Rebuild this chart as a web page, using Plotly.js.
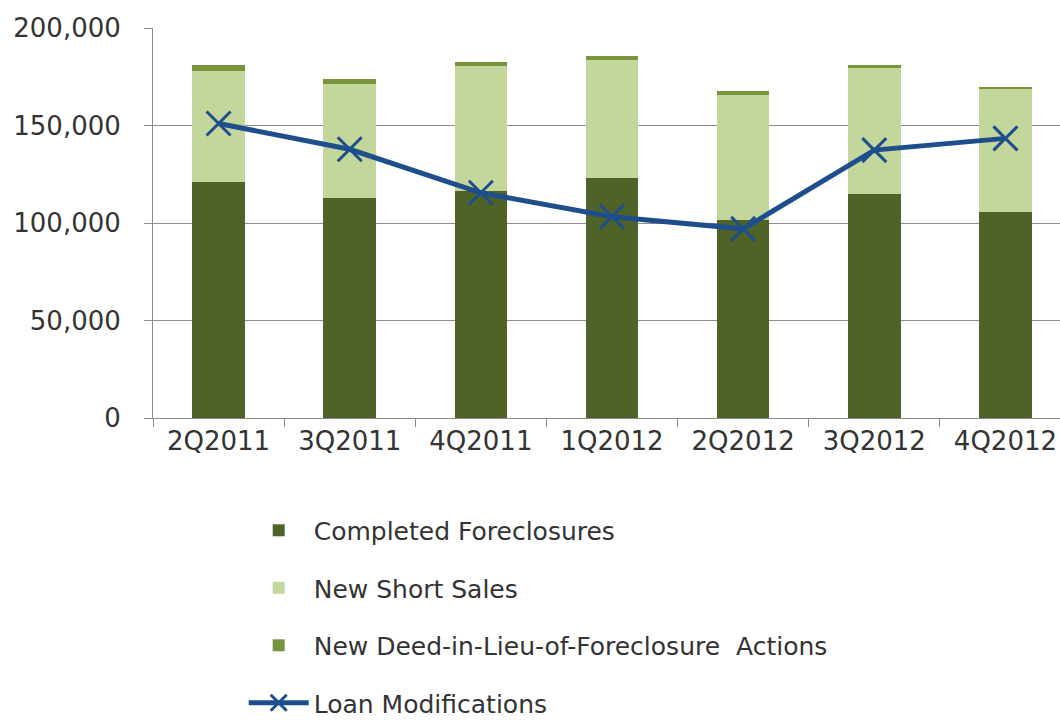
<!DOCTYPE html>
<html><head><meta charset="utf-8">
<script src="https://cdn.plot.ly/plotly-3.0.1.min.js"></script>
<style>html,body{margin:0;padding:0;background:#fff}#chart{width:1060px;height:723px}</style>
</head><body><div id="chart"></div>
<script>
const quarters = ["2Q2011","3Q2011","4Q2011","1Q2012","2Q2012","3Q2012","4Q2012"];
const completedForeclosures = [121000, 113000, 116500, 123000, 101500, 114700, 105500];
const newShortSales = [57000, 58500, 64000, 60500, 64000, 65000, 63000];
const newDeedInLieu = [3000, 2100, 2000, 2400, 2200, 1400, 1000];
const loanModifications = [151000, 137800, 115500, 103200, 97000, 137400, 143400];
const yTicks = [0, 50000, 100000, 150000, 200000];

const font = "DejaVu Sans, sans-serif";
const traces = [
  {type:"bar", name:"Completed Foreclosures", x:quarters, y:completedForeclosures,
   marker:{color:"#4F6228"}, width:0.4, legendgroup:"a"},
  {type:"bar", name:"New Short Sales", x:quarters, y:newShortSales,
   marker:{color:"#C3D69B"}, width:0.4, legendgroup:"b"},
  {type:"bar", name:"New Deed-in-Lieu-of-Foreclosure  Actions", x:quarters, y:newDeedInLieu,
   marker:{color:"#77933C"}, width:0.4, legendgroup:"c"},
  {type:"scatter", mode:"lines+markers", name:"Loan Modifications", x:quarters, y:loanModifications,
   line:{color:"#1F4E8C", width:5},
   marker:{symbol:"x-thin-open", size:24, color:"#1F4E8C", line:{color:"#1F4E8C", width:3}},
   legendgroup:"d"}
];
const layout = {
  width:1060, height:723,
  margin:{l:153, r:0, t:28, b:305},
  paper_bgcolor:"#fff", plot_bgcolor:"#fff",
  barmode:"stack",
  showlegend:true,
  font:{family:font, size:22, color:"#333"},
  xaxis:{type:"category", range:[-0.5, 6.416], showgrid:false, showline:true,
    linecolor:"#8c8c8c", linewidth:1, ticks:"outside", tickson:"boundaries",
    ticklen:8, tickcolor:"#8c8c8c", tickfont:{size:26, color:"#333"},
    ticklabelstandoff:0, automargin:false},
  yaxis:{range:[0,200000], tickvals:yTicks, ticktext:yTicks.map(v=>v.toLocaleString("en-US")),
    showgrid:true, gridcolor:"#8c8c8c", gridwidth:1, showline:true, linecolor:"#8c8c8c",
    ticks:"outside", ticklen:8, tickcolor:"#8c8c8c", tickfont:{size:26, color:"#333"},
    ticklabelstandoff:18, zeroline:false, automargin:false},
  legend:{xref:"paper", yref:"container", x:0.1, y:0.298, xanchor:"left", yanchor:"top",
    orientation:"v", traceorder:"grouped", tracegroupgap:22,
    font:{size:25, color:"#333"}, itemwidth:60, bgcolor:"rgba(0,0,0,0)"}
};
Plotly.newPlot("chart", traces, layout, {displayModeBar:false, staticPlot:true});
</script></body></html>
